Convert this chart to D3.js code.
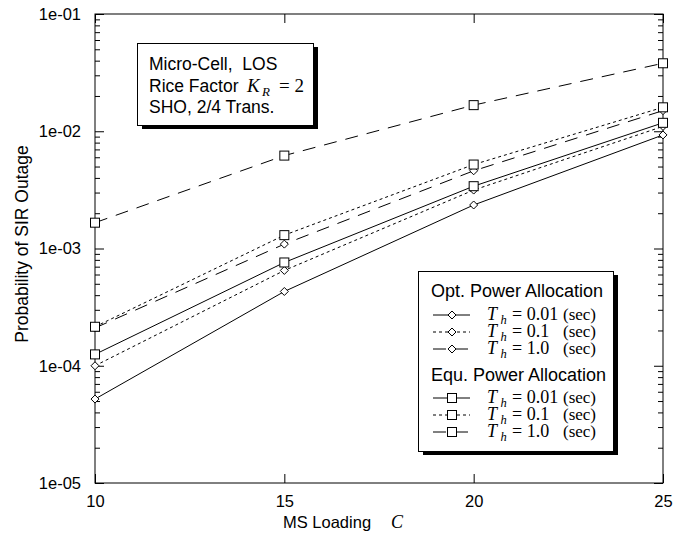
<!DOCTYPE html>
<html>
<head>
<meta charset="utf-8">
<script src="https://cdn.jsdelivr.net/npm/d3@7"></script>
<style>
  html, body { margin: 0; padding: 0; background: #fff; }
  svg { display: block; }
  .sans { font-family: "Liberation Sans", Arial, Helvetica, sans-serif; }
  .serif { font-family: "Liberation Serif", "Times New Roman", serif; }
</style>
</head>
<body>
<svg id="chart" width="682" height="535"></svg>
<script>
// MS loading (x) and outage probabilities for each allocation / hysteresis time
const loads = [10, 15, 20, 25];
const optT001 = [5.2e-5, 4.3e-4, 2.35e-3, 9.3e-3];
const optT01  = [1.0e-4, 6.5e-4, 3.15e-3, 1.1e-2];
const optT1   = [2.1e-4, 1.09e-3, 4.6e-3, 1.5e-2];
const equT001 = [1.25e-4, 7.6e-4, 3.4e-3, 1.18e-2];
const equT01  = [2.15e-4, 1.3e-3, 5.2e-3, 1.6e-2];
const equT1   = [1.66e-3, 6.2e-3, 1.67e-2, 3.8e-2];

const xTicks = [10, 15, 20, 25];
const yTicks = [1e-5, 1e-4, 1e-3, 1e-2, 1e-1];
const thLabels = ["0.01", "0.1", "1.0"];

const series = [
  { values: optT001, marker: "diamond", dash: null },
  { values: optT01,  marker: "diamond", dash: "3,3" },
  { values: optT1,   marker: "diamond", dash: "13,9" },
  { values: equT001, marker: "square",  dash: null },
  { values: equT01,  marker: "square",  dash: "3,3" },
  { values: equT1,   marker: "square",  dash: "13,9" }
];

const svg = d3.select("#chart");
const L = 95, R = 663, T = 14, B = 483;

const x = d3.scaleLinear().domain([10, 25]).range([L, R]);
const y = d3.scaleLog().domain([1e-5, 1e-1]).range([B, T]);

// minor ticks 2..9 within each decade
const minor = [];
for (let e = -5; e < -1; e++) for (let k = 2; k <= 9; k++) minor.push(k * Math.pow(10, e));

const fmtY = d => {
  const ex = Math.round(Math.log10(d));
  return "1e-" + String(-ex).padStart(2, "0");
};

function styleAxis(g) {
  g.select(".domain").remove();
  g.selectAll("line").attr("stroke", "#000").attr("stroke-width", 1);
  g.selectAll("text").attr("fill", "#000")
    .attr("font-family", "Liberation Sans, Arial, sans-serif").attr("font-size", 16.5);
}

// left axis with labels
svg.append("g").attr("transform", `translate(${L},0)`)
  .call(d3.axisLeft(y).tickValues(yTicks).tickFormat(fmtY).tickSize(-9).tickPadding(14))
  .call(styleAxis);
svg.append("g").attr("transform", `translate(${L},0)`)
  .call(d3.axisLeft(y).tickValues(minor).tickFormat("").tickSize(-5))
  .call(styleAxis);
// right axis, ticks only
svg.append("g").attr("transform", `translate(${R},0)`)
  .call(d3.axisRight(y).tickValues(yTicks).tickFormat("").tickSize(-9))
  .call(styleAxis);
svg.append("g").attr("transform", `translate(${R},0)`)
  .call(d3.axisRight(y).tickValues(minor).tickFormat("").tickSize(-5))
  .call(styleAxis);
// bottom axis with labels
svg.append("g").attr("transform", `translate(0,${B})`)
  .call(d3.axisBottom(x).tickValues(xTicks).tickFormat(d3.format("d")).tickSize(-9).tickPadding(12))
  .call(styleAxis);
// top axis, ticks only
svg.append("g").attr("transform", `translate(0,${T})`)
  .call(d3.axisTop(x).tickValues(xTicks).tickFormat("").tickSize(-9))
  .call(styleAxis);

// plot frame
svg.append("rect").attr("x", L).attr("y", T).attr("width", R - L).attr("height", B - T)
  .attr("fill", "none").attr("stroke", "#000").attr("stroke-width", 1);

// axis titles
svg.append("text").attr("class", "sans").attr("font-size", 17.5)
  .attr("transform", "translate(28,244) rotate(-90)").attr("text-anchor", "middle")
  .text("Probability of SIR Outage");
const xt = svg.append("text").attr("x", 283).attr("y", 528).attr("font-size", 16.5);
xt.append("tspan").attr("class", "sans").text("MS Loading");
xt.append("tspan").attr("class", "serif").attr("x", 391).attr("font-style", "italic")
  .attr("font-size", 18).text("C");

// marker drawing
function drawMarker(g, type, cx, cy) {
  if (type === "square") {
    g.append("rect").attr("x", cx - 4.5).attr("y", cy - 4.5).attr("width", 9).attr("height", 9)
      .attr("fill", "#fff").attr("stroke", "#000").attr("stroke-width", 1);
  } else {
    g.append("path").attr("d", `M${cx},${cy - 4}L${cx + 4},${cy}L${cx},${cy + 4}L${cx - 4},${cy}Z`)
      .attr("fill", "#fff").attr("stroke", "#000").attr("stroke-width", 1);
  }
}

const line = d3.line().x(d => x(d[0])).y(d => y(d[1]));
const plot = svg.append("g");
series.forEach(s => {
  const pts = loads.map((c, i) => [c, s.values[i]]);
  plot.append("path").attr("d", line(pts)).attr("fill", "none")
    .attr("stroke", "#000").attr("stroke-width", 1)
    .attr("stroke-dasharray", s.dash);
});
const markers = svg.append("g");
series.forEach(s => {
  loads.forEach((c, i) => drawMarker(markers, s.marker, x(c), y(s.values[i])));
});

// annotation box (with drop shadow)
const ann = svg.append("g");
ann.append("rect").attr("x", 142).attr("y", 47).attr("width", 176).attr("height", 82).attr("fill", "#000");
ann.append("rect").attr("x", 137.5).attr("y", 43.5).attr("width", 176).attr("height", 82)
  .attr("fill", "#fff").attr("stroke", "#000").attr("stroke-width", 1);
ann.append("text").attr("class", "sans").attr("x", 149).attr("y", 70).attr("font-size", 17.5)
  .style("white-space", "pre").text("Micro-Cell,  LOS");
ann.append("text").attr("class", "sans").attr("x", 149).attr("y", 92).attr("font-size", 17.5)
  .text("Rice Factor");
ann.append("text").attr("class", "serif").attr("x", 247).attr("y", 92).attr("font-size", 19)
  .attr("font-style", "italic").text("K");
ann.append("text").attr("class", "serif").attr("x", 262).attr("y", 96).attr("font-size", 13)
  .attr("font-style", "italic").text("R");
ann.append("text").attr("class", "serif").attr("x", 279).attr("y", 92).attr("font-size", 19)
  .text("= 2");
ann.append("text").attr("class", "sans").attr("x", 149).attr("y", 113).attr("font-size", 17.5)
  .text("SHO, 2/4 Trans.");

// legend box (with drop shadow)
const leg = svg.append("g");
leg.append("rect").attr("x", 423).attr("y", 275).attr("width", 195).attr("height", 180).attr("fill", "#000");
leg.append("rect").attr("x", 418.5).attr("y", 271.5).attr("width", 195).attr("height", 180)
  .attr("fill", "#fff").attr("stroke", "#000").attr("stroke-width", 1);

const groups = [
  { title: "Opt. Power Allocation", titleY: 297, rows: [315, 332, 349], items: series.slice(0, 3) },
  { title: "Equ. Power Allocation", titleY: 381, rows: [398, 415, 432], items: series.slice(3, 6) }
];
groups.forEach(gr => {
  leg.append("text").attr("class", "sans").attr("x", 431).attr("y", gr.titleY)
    .attr("font-size", 18).text(gr.title);
  gr.items.forEach((s, i) => {
    const cy = gr.rows[i];
    leg.append("line").attr("x1", 433).attr("x2", 470).attr("y1", cy).attr("y2", cy)
      .attr("stroke", "#000").attr("stroke-width", 1).attr("stroke-dasharray", s.dash);
    drawMarker(leg, s.marker, 452, cy);
    leg.append("text").attr("class", "serif").attr("x", 487).attr("y", cy + 5)
      .attr("font-size", 18).attr("font-style", "italic").text("T");
    leg.append("text").attr("class", "serif").attr("x", 500.5).attr("y", cy + 9)
      .attr("font-size", 12.5).attr("font-style", "italic").text("h");
    leg.append("text").attr("class", "serif").attr("x", 512).attr("y", cy + 5)
      .attr("font-size", 18).text("= " + thLabels[i]);
    leg.append("text").attr("class", "serif").attr("x", 563).attr("y", cy + 5)
      .attr("font-size", 17).text("(sec)");
  });
});
</script>
</body>
</html>
